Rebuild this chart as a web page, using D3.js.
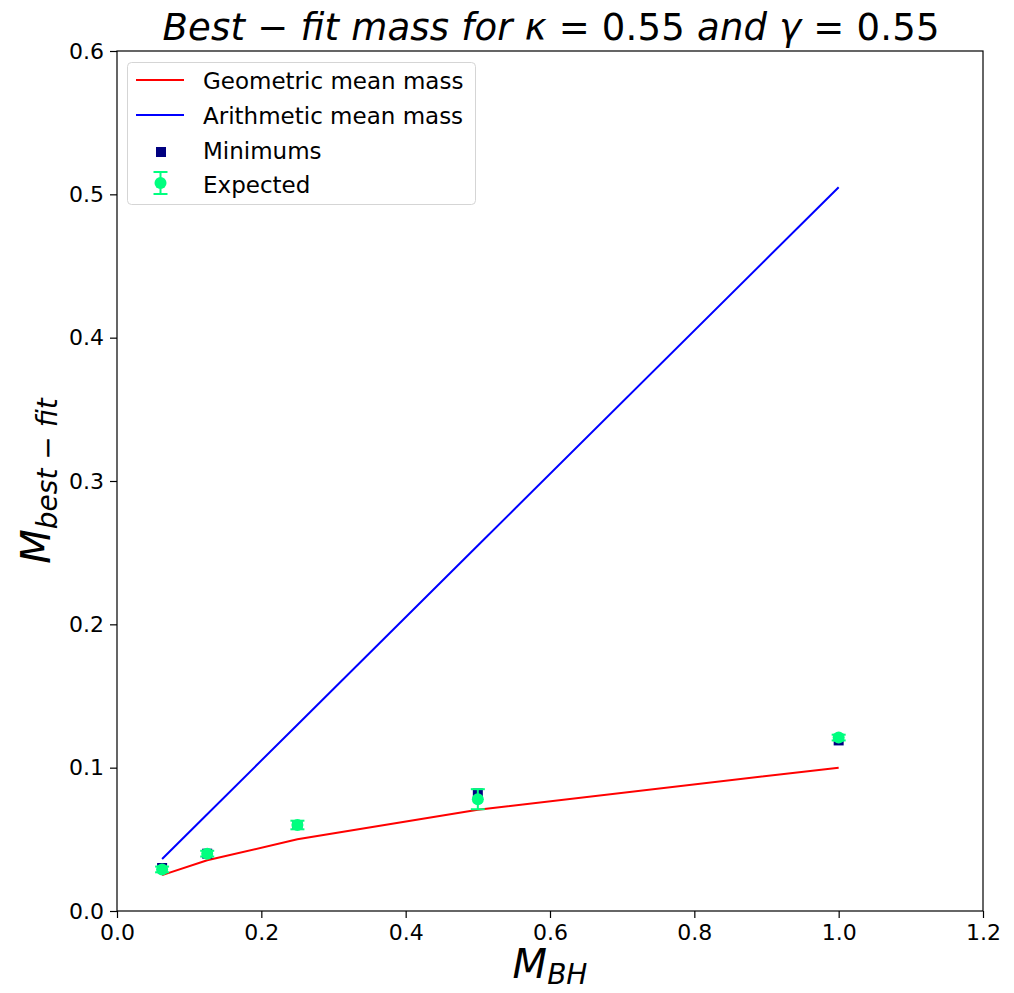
<!DOCTYPE html>
<html>
<head>
<meta charset="utf-8">
<script src="https://cdn.jsdelivr.net/npm/d3@7"></script>
<style>
  body { margin: 0; background: #fff; }
  text { font-family: "DejaVu Sans", sans-serif; }
</style>
</head>
<body>
<div id="chart"></div>
<script>
// data
const massBH = [0.0625, 0.125, 0.25, 0.5, 1.0];
const geometricMean = [0.025, 0.0354, 0.05, 0.0707, 0.1];
const arithmeticMean = [0.03625, 0.0675, 0.13, 0.255, 0.505];
const minimums = [0.03, 0.04, 0.06, 0.082, 0.119];
const expected = [0.029, 0.04, 0.06, 0.078, 0.121];
const expectedErr = [0.002, 0.002, 0.003, 0.007, 0.002];
const xTicks = [0.0, 0.2, 0.4, 0.6, 0.8, 1.0, 1.2];
const yTicks = [0.0, 0.1, 0.2, 0.3, 0.4, 0.5, 0.6];

const w = 1014, h = 993;
const margin = { top: 51, right: 31, bottom: 82, left: 117 };

const svg = d3.select('#chart').append('svg')
  .attr('width', w).attr('height', h);

const xScale = d3.scaleLinear().domain([0, 1.2]).range([margin.left, w - margin.right]);
const yScale = d3.scaleLinear().domain([0, 0.6]).range([h - margin.bottom, margin.top]);

const xAxis = d3.axisBottom(xScale).tickValues(xTicks).tickFormat(d3.format('.1f'))
  .tickSizeOuter(0).tickSize(7).tickPadding(6);
const yAxis = d3.axisLeft(yScale).tickValues(yTicks).tickFormat(d3.format('.1f'))
  .tickSizeOuter(0).tickSize(7).tickPadding(6);

const gx = svg.append('g')
  .attr('transform', 'translate(0,' + (h - margin.bottom) + ')')
  .call(xAxis);
const gy = svg.append('g')
  .attr('transform', 'translate(' + margin.left + ',0)')
  .call(yAxis);
[gx, gy].forEach(g => {
  g.selectAll('text').style('font-size', '22px').attr('fill', '#000')
    .style('font-family', '"DejaVu Sans", sans-serif');
  g.selectAll('line').attr('stroke', '#000').attr('stroke-width', 1.2);
  g.select('.domain').remove();
});

// frame
svg.append('rect')
  .attr('x', margin.left).attr('y', margin.top)
  .attr('width', w - margin.left - margin.right)
  .attr('height', h - margin.top - margin.bottom)
  .attr('fill', 'none').attr('stroke', '#000').attr('stroke-width', 1.2);

const line = vals => d3.line()
  .x((d, i) => xScale(massBH[i]))
  .y(d => yScale(d))(vals);

svg.append('path').attr('d', line(geometricMean))
  .attr('fill', 'none').attr('stroke', '#ff0000').attr('stroke-width', 2);
svg.append('path').attr('d', line(arithmeticMean))
  .attr('fill', 'none').attr('stroke', '#0000ff').attr('stroke-width', 2);

// minimums
const sq = 10;
svg.selectAll('.min').data(minimums).enter().append('rect')
  .attr('class', 'min')
  .attr('x', (d, i) => xScale(massBH[i]) - sq / 2)
  .attr('y', d => yScale(d) - sq / 2)
  .attr('width', sq).attr('height', sq)
  .attr('fill', '#000080');

// expected with error bars
const green = '#00ff7f';
const cap = 7;
const eb = svg.append('g');
expected.forEach((d, i) => {
  const cx = xScale(massBH[i]);
  const y1 = yScale(d - expectedErr[i]), y2 = yScale(d + expectedErr[i]);
  eb.append('line').attr('x1', cx).attr('x2', cx).attr('y1', y1).attr('y2', y2)
    .attr('stroke', green).attr('stroke-width', 2);
  [y1, y2].forEach(y => eb.append('line')
    .attr('x1', cx - cap).attr('x2', cx + cap).attr('y1', y).attr('y2', y)
    .attr('stroke', green).attr('stroke-width', 2));
  eb.append('circle').attr('cx', cx).attr('cy', yScale(d)).attr('r', 6).attr('fill', green);
});

// legend
const lg = svg.append('g');
lg.append('rect').attr('x', 127.5).attr('y', 62.5).attr('width', 348).attr('height', 142)
  .attr('rx', 4).attr('fill', '#fff').attr('fill-opacity', 0.8)
  .attr('stroke', '#d5d5d5');
const rows = [
  { label: 'Geometric mean mass', y: 80 },
  { label: 'Arithmetic mean mass', y: 115 },
  { label: 'Minimums', y: 150 },
  { label: 'Expected', y: 184 }
];
rows.forEach(r => lg.append('text').attr('x', 203).attr('y', r.y + 9)
  .style('font-size', '23px').text(r.label));
lg.append('line').attr('x1', 136).attr('x2', 184).attr('y1', 80).attr('y2', 80)
  .attr('stroke', '#ff0000').attr('stroke-width', 2);
lg.append('line').attr('x1', 136).attr('x2', 184).attr('y1', 115).attr('y2', 115)
  .attr('stroke', '#0000ff').attr('stroke-width', 2);
lg.append('rect').attr('x', 156).attr('y', 147).attr('width', 10).attr('height', 10).attr('fill', '#000080');
lg.append('line').attr('x1', 160.5).attr('x2', 160.5).attr('y1', 172).attr('y2', 194)
  .attr('stroke', green).attr('stroke-width', 2);
[172, 194].forEach(y => lg.append('line').attr('x1', 153.5).attr('x2', 167.5)
  .attr('y1', y).attr('y2', y).attr('stroke', green).attr('stroke-width', 2));
lg.append('circle').attr('cx', 160.5).attr('cy', 183).attr('r', 6).attr('fill', green);

// title (mathtext style: italic letters, upright digits)
const title = svg.append('text').attr('x', 551).attr('y', 40)
  .attr('text-anchor', 'middle').style('font-size', '37px')
  .attr('textLength', 777).attr('lengthAdjust', 'spacing');
[
  ['Best − fit mass for κ', true], [' = 0.55 ', false],
  ['and γ', true], [' = 0.55', false]
].forEach(([t, it]) => title.append('tspan')
  .style('font-style', it ? 'italic' : 'normal').text(t));

// axis labels
const xl = svg.append('text').attr('x', 550).attr('y', 978)
  .attr('text-anchor', 'middle').style('font-size', '40px').style('font-style', 'italic');
xl.append('tspan').text('M');
xl.append('tspan').attr('dy', 6).style('font-size', '28px').text('BH');

const yl = svg.append('text')
  .attr('transform', 'translate(50,' + ((margin.top + h - margin.bottom) / 2) + ') rotate(-90)')
  .attr('text-anchor', 'middle').style('font-size', '40px').style('font-style', 'italic');
yl.append('tspan').text('M');
yl.append('tspan').attr('dy', 7).style('font-size', '28px').text('best − fit');
</script>
</body>
</html>
